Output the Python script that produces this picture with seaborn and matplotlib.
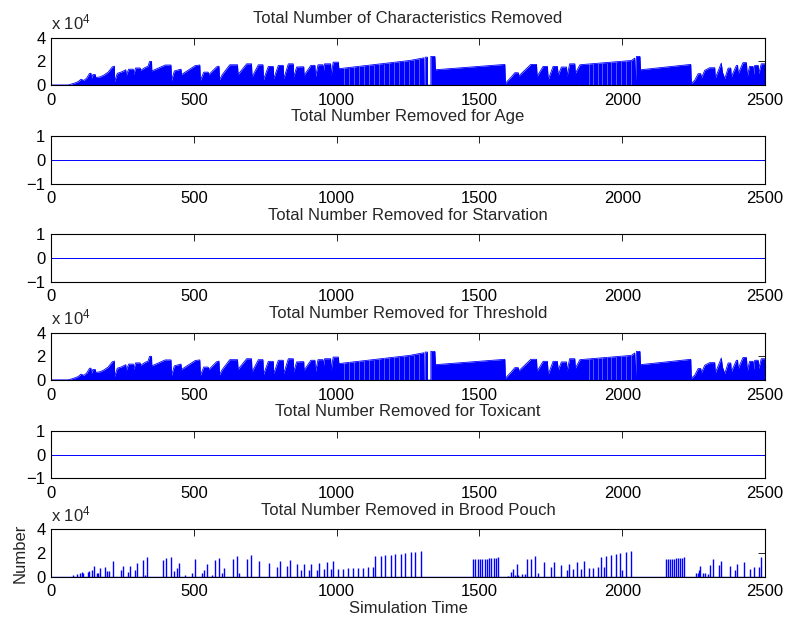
import numpy as np
import pandas as pd
import matplotlib
matplotlib.use("Agg")
import matplotlib.pyplot as plt
import seaborn as sns

# ---- data (counts in units of 10^4) ----
# Envelope of the removal counts: (time, count) vertices of the sawtooth
removed_t = [0, 60, 72, 85, 95, 105, 115, 125, 135, 140, 141, 147, 155, 157, 172, 185, 200, 215, 222, 223,
             232, 245, 262, 263, 272, 288, 290, 296, 312, 314, 330, 340, 345, 352, 353, 400, 420, 422, 432,
             455, 457, 505, 521, 523, 535, 550, 553, 580, 588, 590, 600, 626, 653, 655, 685, 702, 704, 726,
             742, 744, 761, 778, 780, 796, 813, 815, 831, 848, 850, 860, 875, 885, 886, 910, 924, 926, 935,
             952, 954, 958, 979, 981, 988, 1006, 1008, 1256, 1305, 1306, 1310, 1310, 1318, 1318, 1330, 1330,
             1344, 1346, 1589, 1591, 1600, 1612, 1624, 1636, 1638, 1680, 1700, 1702, 1723, 1738, 1741, 1758,
             1773, 1776, 1787, 1805, 1807, 1816, 1834, 1836, 1852, 1866, 2032, 2044, 2046, 2050, 2062, 2064,
             2240, 2242, 2254, 2266, 2275, 2277, 2289, 2306, 2324, 2326, 2347, 2351, 2359, 2371, 2380, 2382,
             2400, 2404, 2406, 2423, 2435, 2438, 2446, 2458, 2460, 2464, 2476, 2478, 2487, 2500]
removed_n = [0.02, 0.02, 0.1, 0.2, 0.3, 0.5, 0.4, 0.6, 1.0, 1.0, 0.55, 0.9, 0.9, 0.65, 0.7, 0.85, 1.1, 1.55, 1.6, 0.3,
             1.0, 1.1, 1.3, 0.8, 1.35, 1.35, 0.9, 1.45, 1.45, 1.25, 1.5, 1.6, 2.0, 2.0, 1.2, 1.7, 1.7, 0.4, 1.2,
             1.35, 0.9, 1.65, 1.7, 0.4, 1.1, 1.1, 0.9, 1.55, 1.6, 0.45, 0.9, 1.72, 1.72, 0.9, 1.8, 1.8, 0.7, 1.72,
             1.72, 0.47, 1.58, 1.58, 0.55, 1.67, 1.67, 0.55, 1.8, 1.8, 0.7, 1.53, 1.55, 1.55, 0.83, 1.67, 1.67, 0.7, 1.72,
             1.72, 1.2, 1.8, 1.8, 0.83, 1.94, 1.94, 1.39, 2.08, 2.3, 0.0, 0.0, 2.36, 2.36, 0.0, 0.0, 2.42,
             2.42, 1.3, 1.75, 0.14, 0.4, 0.7, 1.05, 1.05, 0.78, 1.75, 1.75, 0.75, 1.58, 1.58, 0.47, 1.58,
             1.58, 0.83, 1.53, 1.53, 0.75, 1.8, 1.8, 1.0, 1.72, 1.75, 2.08, 2.28, 0.0, 2.42, 2.42, 1.3,
             1.75, 0.14, 0.42, 0.97, 0.97, 0.6, 1.25, 1.47, 1.47, 0.6, 1.86, 1.1, 0.55, 1.44, 1.44, 0.7,
             1.67, 1.67, 0.97, 1.9, 1.9, 0.75, 1.58, 1.58, 0.9, 1.67, 1.67, 0.97, 1.8, 1.8]
# Steps where the count briefly returned to zero
zero_steps = [1025, 1042, 1060, 1077, 1095, 1112, 1130, 1147, 1165, 1182, 1200, 1217, 1235, 1252, 1270, 1287,
              1883, 1898, 1915, 1930, 1946, 1962, 1978, 1995, 2012, 2030]

# Removals in the brood pouch
brood_t = [78, 90, 102, 107, 113, 128, 134, 142, 152, 160, 166, 172, 189, 196, 203, 216, 244, 251, 268, 277,
           294, 302, 321, 329, 337, 393, 401, 420, 432, 441, 449, 469, 492, 505, 527, 537, 545, 562, 574, 588,
           597, 606, 636, 650, 658, 688, 702, 730, 765, 792, 802, 828, 837, 860, 877, 887, 904, 912, 930, 938,
           957, 965, 980, 989, 1006, 1023, 1041, 1058, 1076, 1093, 1111, 1128,
           1136, 1154, 1171, 1189, 1206, 1224, 1241, 1259, 1276, 1294,
           1478, 1486, 1494, 1502, 1510, 1518, 1526, 1534, 1542, 1550, 1558, 1566,
           1600, 1612, 1618, 1624, 1630, 1636, 1648, 1660, 1666, 1682, 1696, 1706, 1725, 1752, 1760, 1787, 1805,
           1813, 1828, 1840, 1857, 1866, 1883, 1898, 1917, 1925, 1936, 1945, 1962, 1977, 1994, 2001, 2012, 2030,
           2152, 2159, 2166, 2173, 2180, 2187, 2194, 2201, 2208, 2215,
           2258, 2264, 2268, 2274, 2282, 2290, 2300, 2306, 2318, 2339, 2347, 2376, 2394, 2402, 2427, 2446, 2462,
           2479, 2487]
brood_n = [0.14, 0.2, 0.28, 0.42, 0.3, 0.42, 0.5, 0.6, 0.89, 0.35, 0.35, 0.75, 0.78, 0.5, 0.5, 1.3, 0.6, 0.89, 0.42, 0.89,
           0.6, 1.17, 1.39, 0.14, 1.67, 1.44, 1.58, 1.67, 0.47, 0.75, 1.17, 0.14, 0.28, 1.47, 0.28, 0.55, 1.11, 0.14, 1.39, 1.58,
           0.28, 0.75, 1.47, 1.72, 0.33, 1.5, 1.8, 1.33, 1.17, 0.83, 1.33, 0.89, 1.39, 1.03, 0.55, 1.05, 0.6, 1.11, 0.6, 1.17,
           0.69, 1.25, 0.67, 1.31, 0.69, 0.69, 0.72, 0.72, 0.75, 0.75, 0.78, 0.83,
           1.72, 1.76, 1.8, 1.84, 1.88, 1.92, 1.96, 2.04, 2.1, 2.2,
           1.45, 1.46, 1.48, 1.49, 1.5, 1.52, 1.53, 1.55, 1.56, 1.58, 1.6, 1.62,
           0.06, 0.42, 0.62, 0.14, 1.06, 0.14, 0.22, 0.22, 1.45, 1.45, 1.73, 0.28, 1.26, 0.78, 1.23, 0.95, 0.56,
           1.06, 0.64, 1.23, 0.64, 1.31, 0.73, 0.73, 0.78, 1.68, 0.78, 1.73, 1.79, 1.9, 1.96, 0.56, 2.1, 2.15,
           1.45, 1.47, 1.49, 1.51, 1.53, 1.55, 1.57, 1.59, 1.6, 1.62,
           0.28, 0.34, 0.56, 0.9, 0.28, 0.28, 0.22, 0.95, 1.45, 0.98, 1.34, 0.9, 0.56, 1.06, 1.23, 0.67, 0.78,
           0.78, 1.62]

panel_titles = ["Total Number of Characteristics Removed",
                "Total Number Removed for Age",
                "Total Number Removed for Starvation",
                "Total Number Removed for Threshold",
                "Total Number Removed for Toxicant",
                "Total Number Removed in Brood Pouch"]
x_ticks = [0, 500, 1000, 1500, 2000, 2500]
count_ticks = [0, 2, 4]
zero_ticks = [-1, 0, 1]

# ---- style ----
FS = 12
sns.set_style("white")
plt.rcParams.update({
    "font.family": ["Liberation Sans", "DejaVu Sans"],
    "font.size": FS,
    "mathtext.fontset": "custom",
    "mathtext.rm": "Liberation Sans",
    "mathtext.it": "Liberation Sans:italic",
    "axes.edgecolor": "black",
    "axes.linewidth": 0.8,
    "xtick.direction": "in",
    "ytick.direction": "in",
    "xtick.top": True,
    "ytick.right": True,
    "xtick.major.size": 5,
    "ytick.major.size": 5,
    "xtick.major.width": 0.6,
    "ytick.major.width": 0.6,
    "xtick.major.pad": 5.5,
    "ytick.major.pad": 4,
    "xtick.color": "black",
    "ytick.color": "black",
    "xtick.labelsize": FS,
    "ytick.labelsize": FS,
})

W, H = 787, 622
fig = plt.figure(figsize=(W / 100, H / 100), dpi=100)
blue = (0, 0, 1)

axes = []
for k in range(6):
    top = 37.7 + 98.3 * k
    ax = fig.add_axes([51 / W, 1 - (top + 47.5) / H, 714 / W, 47.5 / H])
    axes.append(ax)

env = pd.DataFrame({"t": removed_t, "n": removed_n})
zero_df = pd.DataFrame({"t": [0, 2500], "n": [0, 0]})


def draw_sawtooth(ax):
    ax.fill_between(env["t"], 0, env["n"], color=blue, lw=0)
    sns.lineplot(data=env, x="t", y="n", ax=ax, color=blue, lw=0.6,
                 estimator=None, sort=False)
    heights = np.interp(zero_steps, env["t"], env["n"])
    ax.vlines(zero_steps, 0, heights, color="white", lw=0.6, alpha=0.4)


def count_axis(ax):
    ax.set_ylim(0, 4)
    ax.set_yticks(count_ticks)
    ax.set_yticklabels([str(v) for v in count_ticks])
    ax.text(0, 1 + 8 / 47.5, r"x 10$^{4}$", transform=ax.transAxes,
            ha="left", va="baseline", fontsize=FS)


def zero_axis(ax):
    sns.lineplot(data=zero_df, x="t", y="n", ax=ax, color=blue, lw=0.7,
                 estimator=None, sort=False)
    ax.set_ylim(-1, 1)
    ax.set_yticks(zero_ticks)
    ax.set_yticklabels(["\u22121", "0", "1"])


draw_sawtooth(axes[0]); count_axis(axes[0])
zero_axis(axes[1])
zero_axis(axes[2])
draw_sawtooth(axes[3]); count_axis(axes[3])
zero_axis(axes[4])

# brood pouch removals drawn as spikes from zero
ax = axes[5]
sns.lineplot(data=zero_df, x="t", y="n", ax=ax, color=blue, lw=1.0,
             estimator=None, sort=False)
ax.vlines(brood_t, 0, brood_n, color=blue, lw=1.0)
count_axis(ax)

for ax, title in zip(axes, panel_titles):
    ax.set_xlim(0, 2500)
    ax.set_xticks(x_ticks)
    ax.set_xticklabels([str(v) for v in x_ticks])
    ax.set_title(title, fontsize=FS, pad=10.5)
    ax.set_xlabel("")
    ax.set_ylabel("")
    for s in ax.spines.values():
        s.set_visible(True)
        s.set_color("black")

axes[5].set_xlabel("Simulation Time", fontsize=FS, labelpad=1)
axes[5].set_ylabel("Number", fontsize=FS, labelpad=6)

fig.savefig("out.png", dpi=100, facecolor="white")
